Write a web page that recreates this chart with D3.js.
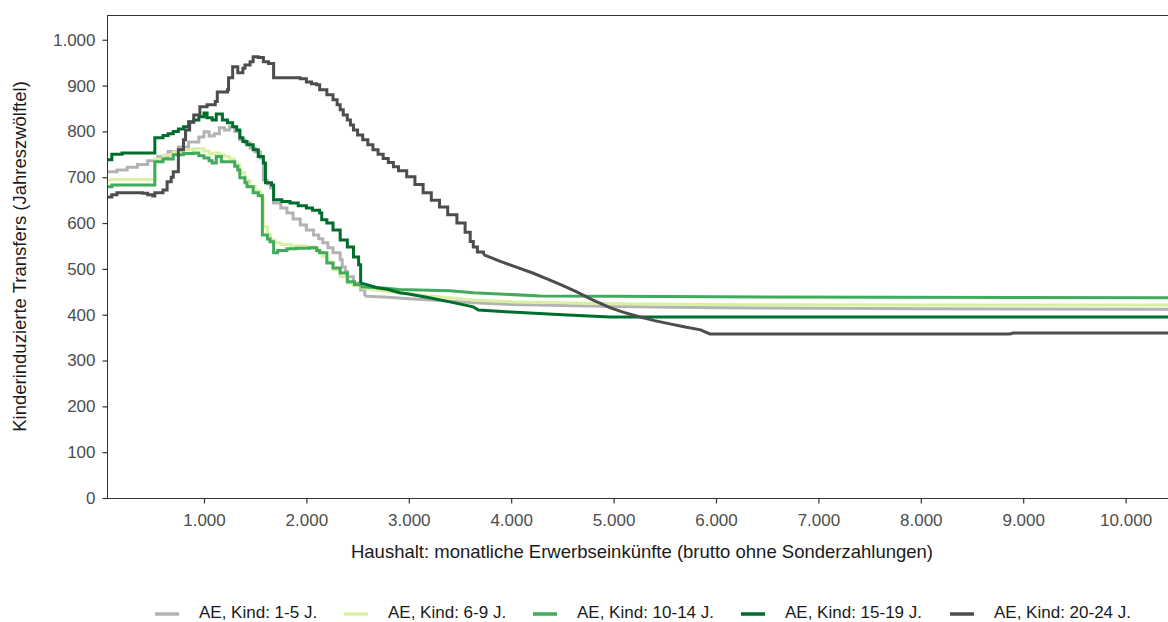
<!DOCTYPE html>
<html>
<head>
<meta charset="utf-8">
<script src="https://cdn.jsdelivr.net/npm/d3@7"></script>
<style>
  html, body { margin: 0; padding: 0; background: #ffffff; }
  svg { display: block; font-family: "Liberation Sans", Arial, sans-serif; }
</style>
</head>
<body>
<svg id="chart" width="1168" height="622"></svg>
<script>
// ---------- data (income in €, transfer value) ----------
const seriesNames = ["AE, Kind: 1-5 J.", "AE, Kind: 6-9 J.", "AE, Kind: 10-14 J.", "AE, Kind: 15-19 J.", "AE, Kind: 20-24 J."];
const seriesColors = ["#b3b3b3", "#d9f0a3", "#41ab5d", "#006d2c", "#4d4d4d"];

const kid1to5 = [[50,712],[150,716],[250,722],[350,728],[450,736],[550,745],[650,756],[750,766],[850,777],[950,788],[1000,799],[1050,790],[1100,795],[1150,808],[1200,803],[1250,810],[1300,800],[1350,782],[1400,775],[1450,764],[1500,755],[1550,742],[1580,694],[1620,686],[1650,677],[1680,644],[1750,633],[1810,622],[1870,609],[1940,596],[2000,585],[2070,574],[2120,566],[2160,557],[2210,546],[2260,535],[2330,520],[2350,504],[2380,494],[2400,483],[2460,469],[2530,454],[2570,441],[2600,440],[2800,438],[3000,435],[3300,431],[3630,426],[4000,422],[5000,418],[6000,415],[8000,413],[10414,412]];

const kid6to9 = [[50,694],[100,695],[520,740],[600,748],[700,755],[800,760],[900,762],[1000,757],[1050,752],[1100,753],[1150,749],[1200,745],[1250,740],[1300,727],[1350,710],[1400,693],[1450,680],[1500,670],[1550,657],[1580,592],[1620,575],[1650,563],[1690,557],[1750,553],[1850,550],[2000,548],[2080,545],[2110,537],[2160,527],[2200,515],[2260,498],[2330,483],[2400,469],[2460,463],[2530,459],[2700,453],[2910,448],[3200,441],[3630,432],[4000,428],[5000,424],[6000,422],[8000,421],[10414,421]];

const kid10to14 = [[50,679],[100,683],[520,734],[600,740],[700,749],[800,752],[900,753],[950,747],[1000,742],[1050,736],[1080,731],[1120,745],[1170,734],[1250,734],[1300,724],[1330,716],[1350,699],[1400,688],[1420,679],[1480,666],[1530,660],[1570,574],[1620,565],[1645,559],[1680,535],[1720,540],[1810,544],[1900,545],[2030,546],[2100,540],[2130,535],[2200,513],[2260,502],[2330,491],[2400,472],[2470,466],[2530,461],[2750,458],[2910,455],[3400,452],[3630,448],[4280,441],[5000,440],[6000,439],[10414,437]];

const kid15to19 = [[50,738],[100,750],[200,753],[520,786],[600,791],[650,795],[700,800],[750,805],[800,810],[850,821],[900,825],[950,832],[1000,840],[1030,830],[1080,825],[1120,838],[1180,825],[1230,819],[1280,810],[1320,803],[1350,786],[1380,778],[1420,771],[1480,760],[1530,745],[1580,731],[1600,688],[1660,683],[1680,651],[1760,647],[1840,644],[1920,638],[2000,633],[2060,628],[2130,622],[2150,607],[2200,600],[2260,585],[2330,563],[2400,548],[2460,526],[2510,509],[2530,469],[2600,465],[2690,459],[2800,455],[2910,448],[3000,445],[3200,437],[3400,428],[3630,417],[3680,410],[4000,406],[4500,400],[4970,395],[10414,395]];

const kid20to24 = [[50,657],[100,662],[150,666],[400,665],[450,662],[500,659],[520,666],[600,672],[640,690],[680,700],[700,712],[750,760],[800,782],[820,803],[860,820],[900,836],[960,854],[1030,858],[1110,865],[1130,886],[1230,891],[1240,917],[1280,941],[1330,928],[1380,938],[1400,945],[1450,952],[1480,963],[1530,961],[1580,952],[1630,948],[1680,917],[1870,917],[1940,915],[2000,908],[2050,904],[2100,902],[2130,891],[2200,880],[2260,869],[2300,858],[2330,847],[2360,836],[2400,825],[2430,814],[2460,803],[2500,792],[2550,782],[2600,771],[2650,760],[2700,750],[2750,741],[2800,732],[2850,723],[2900,714],[2980,701],[3060,684],[3140,666],[3220,650],[3300,635],[3380,618],[3470,600],[3550,580],[3600,560],[3630,548],[3670,537],[3730,531],[3900,516],[4050,504],[4210,491],[4350,478],[4500,464],[4640,450],[4800,432],[4970,415],[5100,405],[5260,395],[5400,387],[5550,380],[5700,373],[5850,367],[5940,358],[8870,358],[8900,360],[10414,360]];

const seriesData = [kid1to5, kid6to9, kid10to14, kid15to19, kid20to24];
// income up to which each series is drawn as a staircase (smooth line afterwards)
const stairUntil = [2570, 2530, 2530, 2530, 3730];

const xTicks = [1000, 2000, 3000, 4000, 5000, 6000, 7000, 8000, 9000, 10000];
const yTicks = [0, 100, 200, 300, 400, 500, 600, 700, 800, 900, 1000];
const xTitle = "Haushalt: monatliche Erwerbseinkünfte (brutto ohne Sonderzahlungen)";
const yTitle = "Kinderinduzierte Transfers (Jahreszwölftel)";

// ---------- layout ----------
const W = 1168, H = 622;
const plot = { left: 107, top: 15, right: 1168, bottom: 498 };
const FONT = 17;
const TITLE_FONT = 18.5;

const de = d3.formatLocale({ decimal: ",", thousands: ".", grouping: [3], currency: ["", " €"] });
const fmt = de.format(",");

const x = d3.scaleLinear().domain([53, 10414]).range([plot.left, plot.right]);
const y = d3.scaleLinear().domain([0, 1054]).range([plot.bottom, plot.top]);

const svg = d3.select("#chart");

const stairLine = d3.line().x(d => x(d[0])).y(d => y(d[1])).curve(d3.curveStepAfter);
const smoothLine = d3.line().x(d => x(d[0])).y(d => y(d[1])).curve(d3.curveLinear);

svg.append("defs").append("clipPath").attr("id", "clip")
  .append("rect").attr("x", plot.left).attr("y", plot.top)
  .attr("width", plot.right - plot.left).attr("height", plot.bottom - plot.top);

const g = svg.append("g").attr("clip-path", "url(#clip)");
seriesData.forEach((s, i) => {
  const cut = stairUntil[i];
  const a = s.filter(d => d[0] <= cut);
  const b = s.filter(d => d[0] >= cut);
  const grp = g.append("g")
    .attr("fill", "none")
    .attr("stroke", seriesColors[i])
    .attr("stroke-width", 3)
    .attr("stroke-linejoin", "miter");
  grp.append("path").attr("d", stairLine(a));
  grp.append("path").attr("d", smoothLine(b));
});

// panel border
svg.append("rect")
  .attr("x", plot.left + 0.5).attr("y", plot.top + 0.5)
  .attr("width", plot.right - plot.left + 20).attr("height", plot.bottom - plot.top)
  .attr("fill", "none").attr("stroke", "#333333").attr("stroke-width", 1);

// axes
const xAxis = d3.axisBottom(x).tickValues(xTicks).tickFormat(fmt).tickSize(5).tickPadding(10);
const yAxis = d3.axisLeft(y).tickValues(yTicks).tickFormat(fmt).tickSize(5).tickPadding(7);

const gx = svg.append("g").attr("transform", `translate(0,${plot.bottom + 0.5})`).call(xAxis);
const gy = svg.append("g").attr("transform", `translate(${plot.left + 0.5},0)`).call(yAxis);
[gx, gy].forEach(a => {
  a.select(".domain").remove();
  a.selectAll(".tick line").attr("stroke", "#333333").attr("stroke-width", 1.2);
  a.selectAll(".tick text").attr("fill", "#4d4d4d").style("font-size", FONT + "px")
    .style("font-family", '"Liberation Sans", Arial, sans-serif');
});

// axis titles
svg.append("text")
  .attr("x", 642)
  .attr("y", 558)
  .attr("text-anchor", "middle")
  .attr("fill", "#1a1a1a")
  .style("font-size", TITLE_FONT + "px")
  .text(xTitle);

svg.append("text")
  .attr("transform", `translate(26,${(plot.top + plot.bottom) / 2}) rotate(-90)`)
  .attr("text-anchor", "middle")
  .attr("fill", "#1a1a1a")
  .style("font-size", TITLE_FONT + "px")
  .text(yTitle);

// legend
const legendX = [155, 344, 533, 741, 950];
const legend = svg.append("g");
seriesNames.forEach((name, i) => {
  legend.append("line")
    .attr("x1", legendX[i]).attr("x2", legendX[i] + 24)
    .attr("y1", 614).attr("y2", 614)
    .attr("stroke", seriesColors[i]).attr("stroke-width", 3.5);
  legend.append("text")
    .attr("x", legendX[i] + 44).attr("y", 618)
    .attr("fill", "#1a1a1a")
    .style("font-size", FONT + "px")
    .text(name);
});
</script>
</body>
</html>
